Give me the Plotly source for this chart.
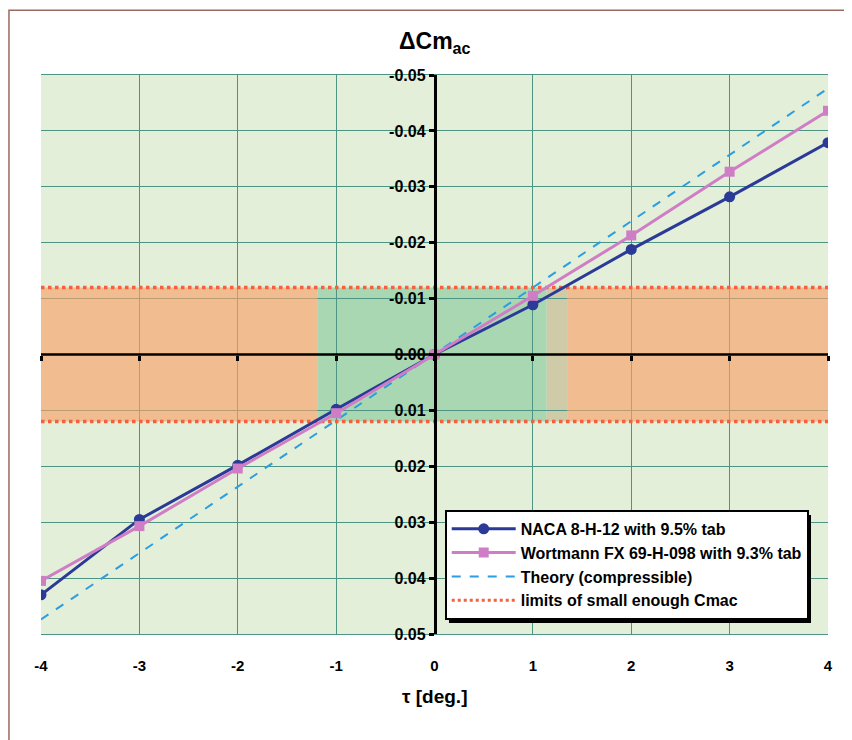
import plotly.graph_objects as go

# ---- data ----
tau = [-4, -3, -2, -1, 0, 1, 2, 3, 4]
naca = [0.0430, 0.0295, 0.0198, 0.0098, 0.0, -0.0089, -0.0188, -0.0282, -0.0379]
wortmann = [0.0405, 0.0307, 0.0204, 0.0105, 0.0, -0.0105, -0.0213, -0.0327, -0.0436]
theory_tau = [-4, 4]
theory = [0.0474, -0.0476]
limit_tau = [-4, 4]
limit_hi = [-0.012, -0.012]
limit_lo = [0.012, 0.012]
# background band edges (tau)
green_band = [-1.19, 1.14]
tan_band = [1.14, 1.35]
orange_left = [-4, -1.19]
orange_right = [1.35, 4]
x_ticks = [-4, -3, -2, -1, 0, 1, 2, 3, 4]
y_ticks = [-0.05, -0.04, -0.03, -0.02, -0.01, 0.0, 0.01, 0.02, 0.03, 0.04, 0.05]
y_ticktext = ["-0.05", "-0.04", "-0.03", "-0.02", "-0.01", "0.00",
              "0.01", "0.02", "0.03", "0.04", "0.05"]

FONT = "Arial, Liberation Sans, sans-serif"
NAVY = "#2a3a96"
PINK = "#cf7ec6"
SKY = "#2a9ee0"
RED = "#f4603e"
GRID = "#4e9484"
BG = "#e3efd9"

fig = go.Figure()

fig.add_trace(go.Scatter(x=limit_tau, y=limit_hi, mode="lines",
                         line=dict(color=RED, width=3.5, dash="dot"),
                         showlegend=False, hoverinfo="skip"))
fig.add_trace(go.Scatter(x=limit_tau, y=limit_lo, mode="lines",
                         line=dict(color=RED, width=3.5, dash="dot"),
                         showlegend=False, hoverinfo="skip"))
fig.add_trace(go.Scatter(x=theory_tau, y=theory, mode="lines",
                         line=dict(color=SKY, width=2, dash="dash"),
                         showlegend=False))
fig.add_trace(go.Scatter(x=tau, y=naca, mode="lines+markers",
                         line=dict(color=NAVY, width=3),
                         marker=dict(symbol="circle", size=11, color=NAVY),
                         name="NACA 8-H-12 with 9.5% tab"))
fig.add_trace(go.Scatter(x=tau, y=wortmann, mode="lines+markers",
                         line=dict(color=PINK, width=3),
                         marker=dict(symbol="square", size=10, color=PINK),
                         name="Wortmann FX 69-H-098 with 9.3% tab"))
# legend entries in the reference order
fig.add_trace(go.Scatter(x=[None], y=[None], mode="lines",
                         line=dict(color=SKY, width=2, dash="dash"),
                         name="Theory (compressible)"))
fig.add_trace(go.Scatter(x=[None], y=[None], mode="lines",
                         line=dict(color=RED, width=3, dash="dot"),
                         name="limits of small enough Cmac"))
# axis line at y = 0 carrying the tau tick marks
fig.add_trace(go.Scatter(x=[x_ticks[0], x_ticks[-1]], y=[0, 0], xaxis="x2",
                         mode="lines", line=dict(color="black", width=2.5),
                         showlegend=False, hoverinfo="skip"))

shapes = []
shapes.append(dict(type="rect", xref="x", yref="y", layer="below",
                   x0=green_band[0], x1=green_band[1], y0=limit_hi[0], y1=limit_lo[0],
                   fillcolor="#a8d7b2", line=dict(width=0)))
shapes.append(dict(type="rect", xref="x", yref="y", layer="below",
                   x0=tan_band[0], x1=tan_band[1], y0=limit_hi[0], y1=limit_lo[0],
                   fillcolor="#cfcaa8", line=dict(width=0)))
for band in (orange_left, orange_right):
    shapes.append(dict(type="rect", xref="x", yref="y", layer="between",
                       x0=band[0], x1=band[1], y0=limit_hi[0], y1=limit_lo[0],
                       fillcolor="#f8a068", opacity=0.65, line=dict(width=0)))
# legend shadow
shapes.append(dict(type="rect", xref="paper", yref="paper", layer="above",
                   x0=0.5184, x1=0.9784, y0=0.0197, y1=0.2129,
                   fillcolor="black", line=dict(width=0)))
# outer frame
shapes.append(dict(type="rect", xref="paper", yref="paper", layer="above",
                   x0=-0.0407, x1=1.2, y0=-0.4, y1=1.116,
                   fillcolor="rgba(0,0,0,0)", line=dict(color="#9a6a5e", width=1.5)))

fig.update_layout(
    width=844, height=732,
    margin=dict(l=33, r=24, t=67, b=106),
    paper_bgcolor="white", plot_bgcolor=BG,
    font=dict(family=FONT, color="black"),
    shapes=shapes,
    xaxis=dict(range=[-4, 4], tickvals=x_ticks, ticktext=[str(v) for v in x_ticks],
               showgrid=True, gridcolor=GRID, gridwidth=1, zeroline=False,
               showline=True, linecolor=GRID, linewidth=1, mirror=True,
               ticks="", ticklabelstandoff=18,
               tickfont=dict(size=15, family=FONT, weight="bold")),
    xaxis2=dict(range=[-4, 4], overlaying="x", anchor="free", position=0.5,
                tickvals=x_ticks, showticklabels=False, ticks="outside",
                ticklen=5, tickwidth=2.5, tickcolor="black", showgrid=False,
                zeroline=False, showline=False),
    yaxis=dict(range=[0.05, -0.05], tickvals=y_ticks, ticktext=y_ticktext,
               anchor="free", position=0.5,
               showgrid=True, gridcolor=GRID, gridwidth=1, zeroline=False,
               showline=True, linecolor="black", linewidth=2.5,
               ticks="outside", ticklen=5, tickwidth=2.5, tickcolor="black",
               tickfont=dict(size=16, family=FONT, weight="bold")),
    legend=dict(x=0.513, y=0.222, xanchor="left", yanchor="top",
                bgcolor="white", bordercolor="black", borderwidth=2,
                font=dict(size=16, family=FONT, weight="bold"),
                itemwidth=64, tracegroupgap=0),
    annotations=[
        dict(text="ΔCm<sub>ac</sub>", xref="paper", yref="paper",
             x=0.5, y=1.058, xanchor="center", yanchor="middle", showarrow=False,
             font=dict(size=23, family=FONT, weight="bold")),
        dict(text="τ [deg.]",
             xref="paper", yref="paper", x=0.5, y=-0.112, xanchor="center",
             yanchor="middle", showarrow=False,
             font=dict(size=19, family=FONT, weight="bold")),
    ],
)

fig.write_html("out.html")
